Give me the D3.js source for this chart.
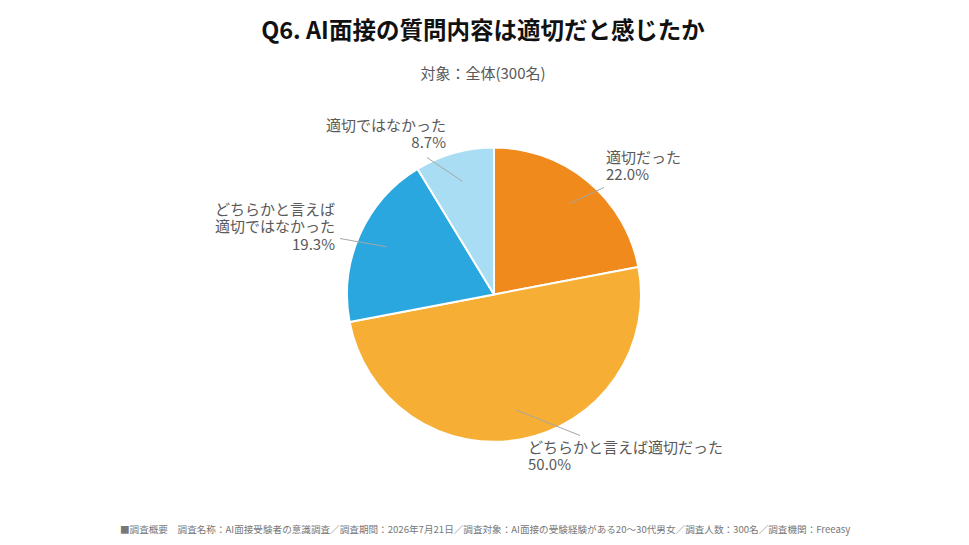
<!DOCTYPE html>
<html><head><meta charset="utf-8">
<script src="https://cdn.jsdelivr.net/npm/d3@7"></script>
<style>body{margin:0;background:#fff;}svg{display:block;}</style>
</head><body>
<svg id="c" width="969" height="545"></svg>
<script>
const categories = ["適切だった", "どちらかと言えば適切だった", "どちらかと言えば適切ではなかった", "適切ではなかった"];
const values = [22.0, 50.0, 19.3, 8.7];
const colors = ["#F08A1D", "#F6AE35", "#2AA7DF", "#A9DDF4"];
const labelLines = [["適切だった"], ["どちらかと言えば適切だった"], ["どちらかと言えば", "適切ではなかった"], ["適切ではなかった"]];
// label anchor offsets (layout) relative to pie centre, and text alignment
const labelPos = [[112, -132, "start"], [34, 158, "start"], [-159, -80, "end"], [-48, -164, "end"]];
const leaderEnd = [[110, -107], [86, 141], [-154, -56], [-67, -137]];

const title = "Q6. AI面接の質問内容は適切だと感じたか";
const subtitle = "対象：全体(300名)";
const footer = "■調査概要　調査名称：AI面接受験者の意識調査／調査期間：2026年7月21日／調査対象：AI面接の受験経験がある20～30代男女／調査人数：300名／調査機関：Freeasy";

const font = "'Noto Sans CJK JP','Noto Sans',sans-serif";
const svg = d3.select("#c");
svg.append("text").attr("x", 483).attr("y", 39).attr("text-anchor", "middle")
  .attr("font-family", font).attr("font-weight", "bold").attr("font-size", 23.5).attr("fill", "#111").text(title);
svg.append("text").attr("x", 483).attr("y", 79).attr("text-anchor", "middle")
  .attr("font-family", font).attr("font-size", 15).attr("fill", "#595959").text(subtitle);
svg.append("text").attr("x", 120).attr("y", 532.5)
  .attr("font-family", font).attr("font-size", 9.6).attr("fill", "#777").text(footer);

const cx = 494, cy = 294.5, r = 147;
const g = svg.append("g").attr("transform", `translate(${cx},${cy})`);
const pie = d3.pie().sort(null).value(d => d)(values);
const arc = d3.arc().innerRadius(0).outerRadius(r);
g.selectAll("path.s").data(pie).join("path").attr("class", "s")
  .attr("d", arc).attr("fill", (d, i) => colors[i])
  .attr("stroke", "#fff").attr("stroke-width", 2).attr("stroke-linejoin", "round");

const inner = d3.arc().innerRadius(r * 0.8).outerRadius(r * 0.8);
g.selectAll("line.l").data(pie).join("line").attr("class", "l")
  .attr("x1", d => inner.centroid(d)[0]).attr("y1", d => inner.centroid(d)[1])
  .attr("x2", (d, i) => leaderEnd[i][0]).attr("y2", (d, i) => leaderEnd[i][1])
  .attr("stroke", "#A6A6A6").attr("stroke-width", 1);

pie.forEach((d, i) => {
  const [lx, ly, anchor] = labelPos[i];
  const lines = labelLines[i].concat([values[i].toFixed(1) + "%"]);
  lines.forEach((s, k) => g.append("text").attr("x", lx).attr("y", ly + k * 17.5)
    .attr("text-anchor", anchor).attr("font-family", font).attr("font-size", 15)
    .attr("fill", "#595959").text(s));
});
</script>
</body></html>
